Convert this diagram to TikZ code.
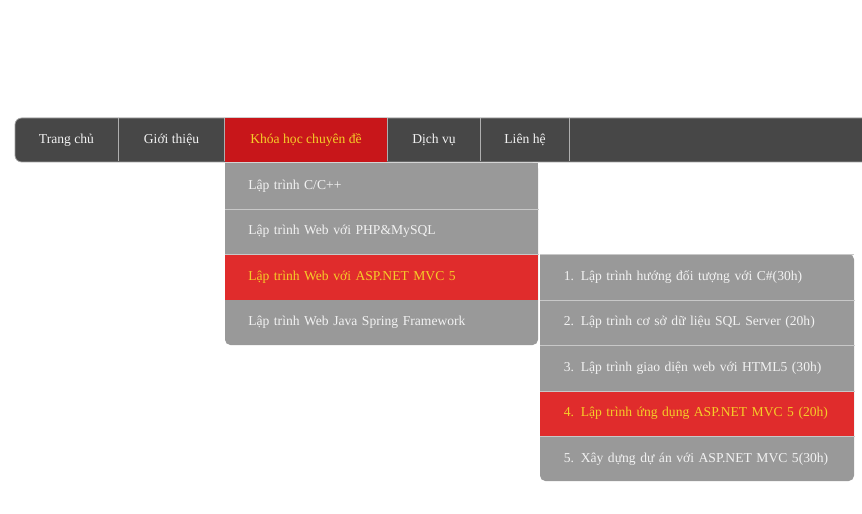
\documentclass[tikz,border=0pt]{standalone}
\usepackage{fontspec}
\setmainfont{Liberation Serif}
\definecolor{bardark}{RGB}{71,71,71}
\definecolor{hdred}{RGB}{200,22,26}
\definecolor{rowred}{RGB}{224,44,44}
\definecolor{rowgray}{RGB}{153,153,153}
\definecolor{sepgray}{RGB}{200,200,200}
\definecolor{txtwhite}{RGB}{242,242,242}
\definecolor{txtyellow}{RGB}{245,205,40}
\tikzset{
  menuitem/.style={minimum height=33pt, inner sep=0pt, text=txtwhite, font=\fontsize{10.2pt}{12pt}\selectfont},
  rowitem/.style={minimum height=34.125pt, minimum width=234.75pt, inner xsep=17.25pt, inner ysep=0pt, text width=200.25pt, align=left, text=txtwhite, font=\fontsize{10.2pt}{12pt}\selectfont},
  active/.style={fill=rowred, text=txtyellow},
  sepline/.style={draw=sepgray, line width=0.75pt},
}
\begin{document}
\begin{tikzpicture}[x=0.75pt,y=-0.75pt]
\useasboundingbox[fill=white] (0,0) rectangle (862,513);
% menu bar
\begin{scope}
\clip (0,0) rectangle (862,513);
\fill[bardark, rounded corners=5] (15,118) rectangle (880,162);
\draw[sepgray!70!bardark, line width=0.6pt, rounded corners=5] (880,118) -- (15,118) -- (15,162) -- (880,162);
\end{scope}
\node[menuitem, minimum width=77.25pt] (m1) at (66.5,140) {Trang chủ};
\node[menuitem, minimum width=78.75pt] (m2) at (171.5,140) {Giới thiệu};
\node[menuitem, minimum width=121.5pt, minimum height=33pt, fill=hdred, text=txtyellow] (m3) at (306,140) {Khóa học chuyên đề};
\node[menuitem, minimum width=69pt] (m4) at (434,140) {Dịch vụ};
\node[menuitem, minimum width=66pt] (m5) at (525,140) {Liên hệ};
\foreach \x in {118.5,224.5,387.5,480.5,569.5}
  \draw[sepline, draw=sepgray!80!bardark] (\x,118.5) -- (\x,161.5);
% dropdown 1
\fill[rowgray, rounded corners=4] (225,163) -- (225,345) -- (538,345) -- (538,163) [sharp corners] -- cycle;
\fill[rowgray] (225,163) rectangle (538,170);
\node[rowitem, anchor=north west] (d1) at (225,163) {\mbox{Lập trình C/C++}};
\node[rowitem, anchor=north west] (d2) at (225,208.5) {\mbox{Lập trình Web với PHP\&MySQL}};
\node[rowitem, anchor=north west, active] (d3) at (225,254) {\mbox{Lập trình Web với ASP.NET MVC 5}};
\node[rowitem, anchor=north west] (d4) at (225,299.5) {\mbox{Lập trình Web Java Spring Framework}};
\draw[sepline] (d1.south west) -- (d1.south east);
\draw[sepline] (d2.south west) -- (d2.south east);
% dropdown 2
\fill[rowgray, rounded corners=4] (540,254) -- (540,481) -- (854,481) -- (854,254) [sharp corners] -- cycle;
\node[rowitem, anchor=north west, minimum width=235.5pt] (s1) at (540,254) {\mbox{1. Lập trình hướng đối tượng với C\#(30h)}};
\node[rowitem, anchor=north west, minimum width=235.5pt] (s2) at (540,299.5) {\mbox{2. Lập trình cơ sở dữ liệu SQL Server (20h)}};
\node[rowitem, anchor=north west, minimum width=235.5pt] (s3) at (540,345) {\mbox{3. Lập trình giao diện web với HTML5 (30h)}};
\node[rowitem, anchor=north west, minimum width=235.5pt, active] (s4) at (540,390.5) {\mbox{4. Lập trình ứng dụng ASP.NET MVC 5 (20h)}};
\node[rowitem, anchor=north west, minimum width=235.5pt] (s5) at (540,436) {\mbox{5. Xây dựng dự án với ASP.NET MVC 5(30h)}};
\draw[sepline] (s1.south west) -- (s1.south east);
\draw[sepline] (s2.south west) -- (s2.south east);
\draw[sepline] (s3.south west) -- (s3.south east);
\draw[sepline] (s4.south west) -- (s4.south east);
\draw[sepgray, line width=0.5pt] (540,254) -- (854,254);
\end{tikzpicture}
\end{document}
